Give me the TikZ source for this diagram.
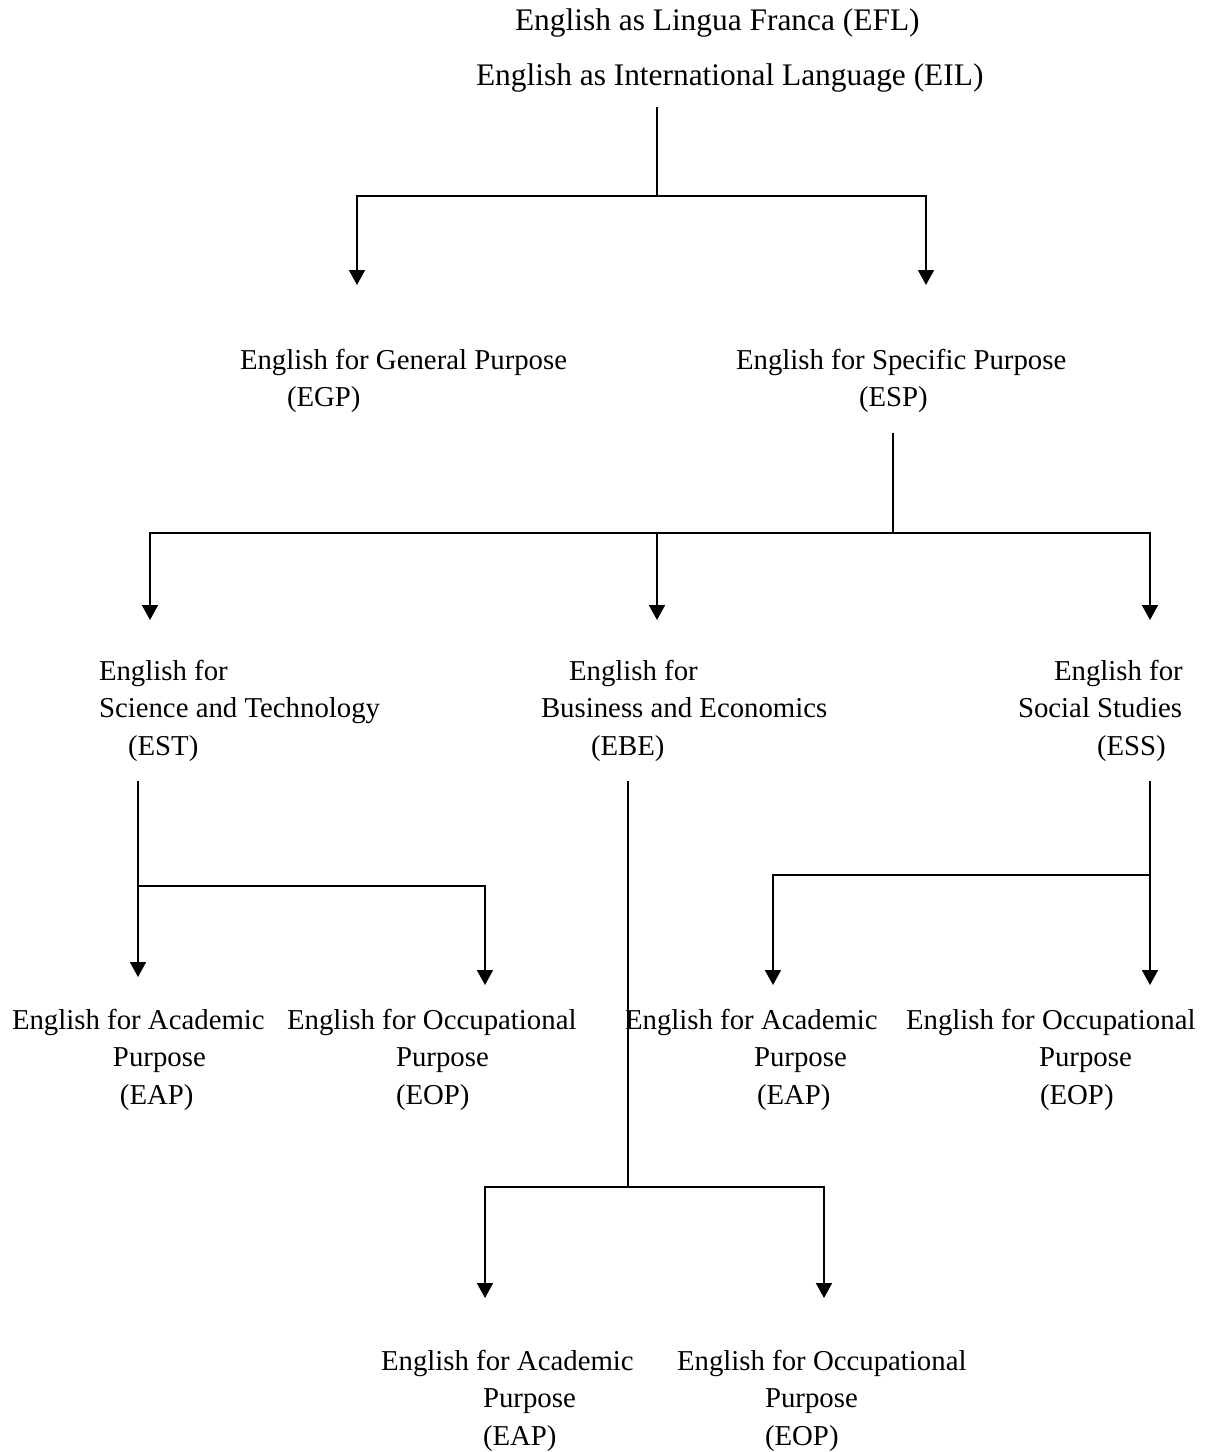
\documentclass[tikz,border=0pt]{standalone}
\usepackage{fontspec}
\setmainfont{Liberation Serif}
\usepackage{tikz}
\usetikzlibrary{arrows.meta}
\tikzset{
  term/.style={anchor=base west,align=left,inner sep=0pt,
    outer xsep=0pt,outer ysep=10pt,
    font=\fontsize{14.4pt}{18.75pt}\selectfont},
  stem/.style={line width=0.9pt,draw=black},
  branch/.style={-{Triangle[width=8pt,length=7.5pt]},line width=0.9pt,draw=black}
}

\begin{document}
\begin{tikzpicture}[x=0.5pt,y=-0.5pt]
  \useasboundingbox (0,0) rectangle (1213,1452);
  % levels of the tree (placed at the baseline of the last line)
  \node[term,outer ysep=7.5pt,font=\fontsize{15.7pt}{18.75pt}\selectfont] (top) at (476,85)
    {\hspace*{19.5pt}English as Lingua Franca (EFL)\\[8.75pt]
    English as International Language (EIL)};
  \node[term] (egp) at (240,406.5) {English for General Purpose\\\hspace*{23.5pt}(EGP)};
  \node[term] (esp) at (736,406.5) {English for Specific Purpose\\\hspace*{61.5pt}(ESP)};
  \node[term] (est) at (99,755) {English for\\Science and Technology\\\hspace*{14.5pt}(EST)};
  \node[term] (ebe) at (541,755) {\hspace*{14pt}English for\\Business and Economics\\\hspace*{25pt}(EBE)};
  \node[term] (ess) at (1018,755) {\hspace*{18pt}English for\\Social Studies\\\hspace*{39.5pt}(ESS)};
  \node[term] (eap1) at (12,1104) {English for Academic\\\hspace*{50.5pt}Purpose\\\hspace*{54pt}(EAP)};
  \node[term] (eop1) at (287,1104) {English for Occupational\\\hspace*{54.5pt}Purpose\\\hspace*{54.5pt}(EOP)};
  \node[term] (eap2) at (625,1104) {English for Academic\\\hspace*{64.5pt}Purpose\\\hspace*{66pt}(EAP)};
  \node[term] (eop2) at (906,1104) {English for Occupational\\\hspace*{66.5pt}Purpose\\\hspace*{67pt}(EOP)};
  \node[term] (eap3) at (381,1445) {English for Academic\\\hspace*{51pt}Purpose\\\hspace*{51pt}(EAP)};
  \node[term] (eop3) at (677,1445) {English for Occupational\\\hspace*{44pt}Purpose\\\hspace*{44pt}(EOP)};

  % junctions and arrow ends
  \coordinate (jtop) at (657,196);
  \coordinate (tegp) at (357,285);
  \coordinate (tesp) at (926,285);
  \coordinate (jesp) at (893,533);
  \coordinate (test) at (150,620);
  \coordinate (tebe) at (657,620);
  \coordinate (tess) at (1150,620);
  \coordinate (jest) at (138,886);
  \coordinate (teap1) at (138,977);
  \coordinate (teop1) at (485,985);
  \coordinate (jess) at (1150,875);
  \coordinate (teap2) at (773,985);
  \coordinate (teop2) at (1150,985);
  \coordinate (jebe) at (628,1187);
  \coordinate (teap3) at (485,1298);
  \coordinate (teop3) at (824,1298);

  % EFL/EIL
  \draw[stem] (top.south -| jtop) -- (jtop);
  \draw[branch] (jtop) -| (tegp);
  \draw[branch] (jtop) -| (tesp);
  % ESP
  \draw[stem] (esp.south -| jesp) -- (jesp);
  \draw[branch] (jesp) -| (test);
  \draw[branch] (jesp) -| (tebe);
  \draw[branch] (jesp) -| (tess);
  % EST
  \draw[branch] (est.south -| jest) -- (teap1);
  \draw[branch] (jest) -| (teop1);
  % ESS
  \draw[branch] (ess.south -| jess) -- (teop2);
  \draw[branch] (jess) -| (teap2);
  % EBE
  \draw[stem] (ebe.south -| jebe) -- (jebe);
  \draw[branch] (jebe) -| (teap3);
  \draw[branch] (jebe) -| (teop3);
\end{tikzpicture}
\end{document}
